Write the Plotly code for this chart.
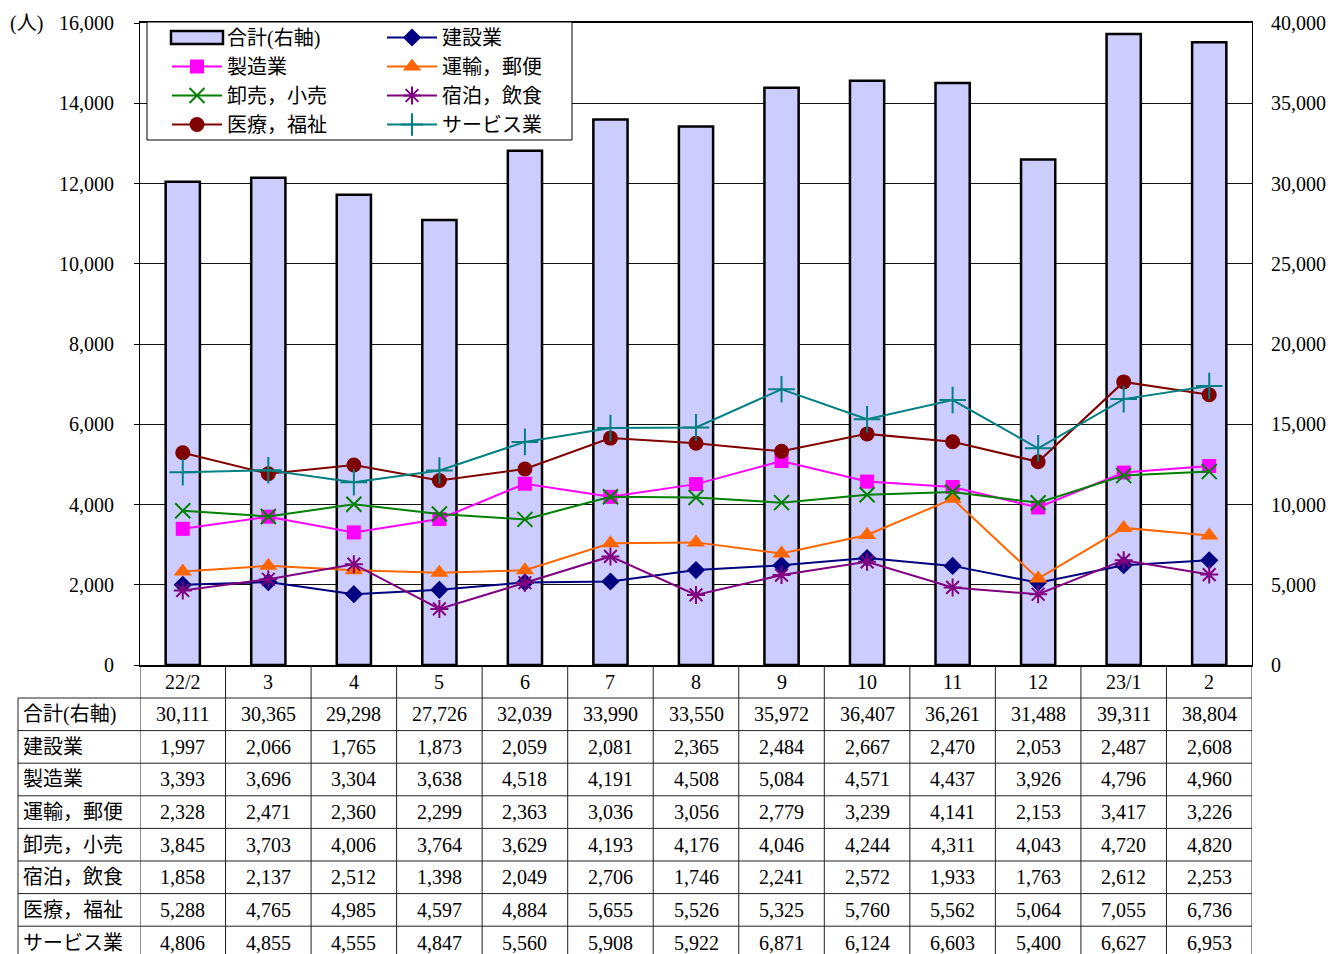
import plotly.graph_objects as go

# Monthly values (persons)
months = ["22/2", "3", "4", "5", "6", "7", "8", "9", "10", "11", "12", "23/1", "2"]
total = [30111, 30365, 29298, 27726, 32039, 33990, 33550, 35972, 36407, 36261, 31488, 39311, 38804]
construction = [1997, 2066, 1765, 1873, 2059, 2081, 2365, 2484, 2667, 2470, 2053, 2487, 2608]
manufacturing = [3393, 3696, 3304, 3638, 4518, 4191, 4508, 5084, 4571, 4437, 3926, 4796, 4960]
transport = [2328, 2471, 2360, 2299, 2363, 3036, 3056, 2779, 3239, 4141, 2153, 3417, 3226]
wholesale = [3845, 3703, 4006, 3764, 3629, 4193, 4176, 4046, 4244, 4311, 4043, 4720, 4820]
lodging = [1858, 2137, 2512, 1398, 2049, 2706, 1746, 2241, 2572, 1933, 1763, 2612, 2253]
medical = [5288, 4765, 4985, 4597, 4884, 5655, 5526, 5325, 5760, 5562, 5064, 7055, 6736]
services = [4806, 4855, 4555, 4847, 5560, 5908, 5922, 6871, 6124, 6603, 5400, 6627, 6953]

total_name = "合計(右軸)"
series = [
    # name, values, colour, symbol, size, legend column
    ("建設業", construction, "#000080", "diamond", 14, "legend2"),
    ("製造業", manufacturing, "#FF00FF", "square", 14, "legend"),
    ("運輸，郵便", transport, "#FF6600", "triangle-up", 16, "legend2"),
    ("卸売，小売", wholesale, "#008000", "x-thin", 15, "legend"),
    ("宿泊，飲食", lodging, "#800080", "asterisk", 15, "legend2"),
    ("医療，福祉", medical, "#800000", "circle", 15, "legend"),
    ("サービス業", services, "#008080", "cross-thin", 19, "legend2"),
]

FONT = "'Liberation Serif', 'Noto Sans CJK JP', serif"
W, H = 1337, 954
L, R, T, B = 140, 85, 23, 289
PH = H - T - B
BAR_FILL = "#CCCCFF"


def py(p):
    """pixel row -> paper y"""
    return (H - B - p) / PH


def px(p):
    """pixel column -> paper x"""
    return (p - L) / (W - L - R)


fig = go.Figure()

fig.add_trace(go.Bar(
    x=months, y=total, name=total_name, yaxis="y", width=0.4,
    marker=dict(color=BAR_FILL, line=dict(color="black", width=2.5)),
    showlegend=False,
))
# legend entry for the bars; its wide swatch is drawn as a shape below
fig.add_trace(go.Scatter(
    x=[None], y=[None], name=total_name, mode="lines", yaxis="y",
    line=dict(color="rgba(0,0,0,0)", width=1), legend="legend",
    hoverinfo="skip",
))

for name, vals, col, sym, size, lg in series:
    thin = sym in ("x-thin", "cross-thin", "asterisk")
    fig.add_trace(go.Scatter(
        x=months, y=vals, name=name, yaxis="y2", mode="lines+markers",
        line=dict(color=col, width=2),
        marker=dict(symbol=sym, size=size, color=col,
                    line=dict(color=col, width=2 if thin else 0)),
        legend=lg,
    ))

# legend frame and bar swatch
fig.add_shape(type="rect", xref="paper", yref="paper",
              x0=px(147), x1=px(572), y0=py(140), y1=py(22),
              fillcolor="white", line=dict(color="black", width=1), layer="above")
fig.add_shape(type="rect", xref="paper", yref="paper",
              x0=px(171), x1=px(223), y0=py(44), y1=py(31),
              fillcolor=BAR_FILL, line=dict(color="black", width=2.5), layer="above")

# data table under the chart
row_names = [total_name] + [s[0] for s in series]
row_vals = [total] + [s[1] for s in series]
row_h = 32.6
top = 698
n_rows = len(row_names)

shapes = []
line_style = dict(color="#222222", width=1)
for k in range(n_rows + 1):
    yy = top + k * row_h
    shapes.append(dict(type="line", xref="paper", yref="paper",
                       x0=px(18), x1=1, y0=py(yy), y1=py(yy), line=line_style))
shapes.append(dict(type="line", xref="paper", yref="paper",
                   x0=px(18), x1=px(18), y0=py(top), y1=py(H + 10), line=line_style))
for i in range(len(months) + 1):
    shapes.append(dict(type="line", xref="x", yref="paper",
                       x0=i - 0.5, x1=i - 0.5, y0=0, y1=py(H + 10), line=line_style))
for s in shapes:
    fig.add_shape(**s)

txt_font = dict(family=FONT, size=20, color="black")
ann = []
for i, m in enumerate(months):
    ann.append(dict(x=i, y=py(682), xref="x", yref="paper", text=m,
                    xanchor="center", yanchor="middle",
                    showarrow=False, font=txt_font))
for k, (nm, vals) in enumerate(zip(row_names, row_vals)):
    yc = py(top + row_h * (k + 0.5))
    ann.append(dict(x=px(21), y=yc, xref="paper", yref="paper", text=nm,
                    xanchor="left", yanchor="middle", showarrow=False,
                    font=txt_font))
    for i, v in enumerate(vals):
        ann.append(dict(x=i, y=yc, xref="x", yref="paper", text=f"{v:,}",
                        xanchor="center", yanchor="middle",
                        showarrow=False, font=txt_font))
ann.append(dict(x=px(8), y=py(23), xref="paper", yref="paper", text="(人)",
                xanchor="left", yanchor="middle", showarrow=False,
                font=txt_font))
fig.update_layout(annotations=ann)

legend_common = dict(
    xanchor="left", yanchor="top", bgcolor="rgba(0,0,0,0)", borderwidth=0,
    font=dict(family=FONT, size=20, color="black"), itemwidth=50,
    orientation="v", traceorder="normal",
)

fig.update_layout(
    width=W, height=H,
    margin=dict(l=L, r=R, t=T, b=B),
    paper_bgcolor="white", plot_bgcolor="white",
    font=dict(family=FONT, size=20, color="black"),
    bargap=0.6,
    xaxis=dict(type="category", range=[-0.5, 12.5], showticklabels=False,
               ticks="", showgrid=False, showline=True, linecolor="black",
               linewidth=2, mirror=True, zeroline=False),
    yaxis=dict(side="right", range=[0, 40000], dtick=5000, tickformat=",",
               showgrid=True, gridcolor="#111111", gridwidth=1, zeroline=False,
               showline=True, linecolor="black", linewidth=1, mirror=True,
               ticks="", ticklabelstandoff=14,
               tickfont=dict(family=FONT, size=20, color="black")),
    yaxis2=dict(side="left", overlaying="y", range=[0, 16000], dtick=2000,
                tickformat=",", showgrid=False, zeroline=False,
                ticks="outside", ticklen=5, tickcolor="black",
                ticklabelstandoff=16,
                tickfont=dict(family=FONT, size=20, color="black")),
    legend=dict(x=px(167), y=py(18), **legend_common),
    legend2=dict(x=px(382), y=py(18), **legend_common),
    showlegend=True,
)

fig.write_html("out.html")
